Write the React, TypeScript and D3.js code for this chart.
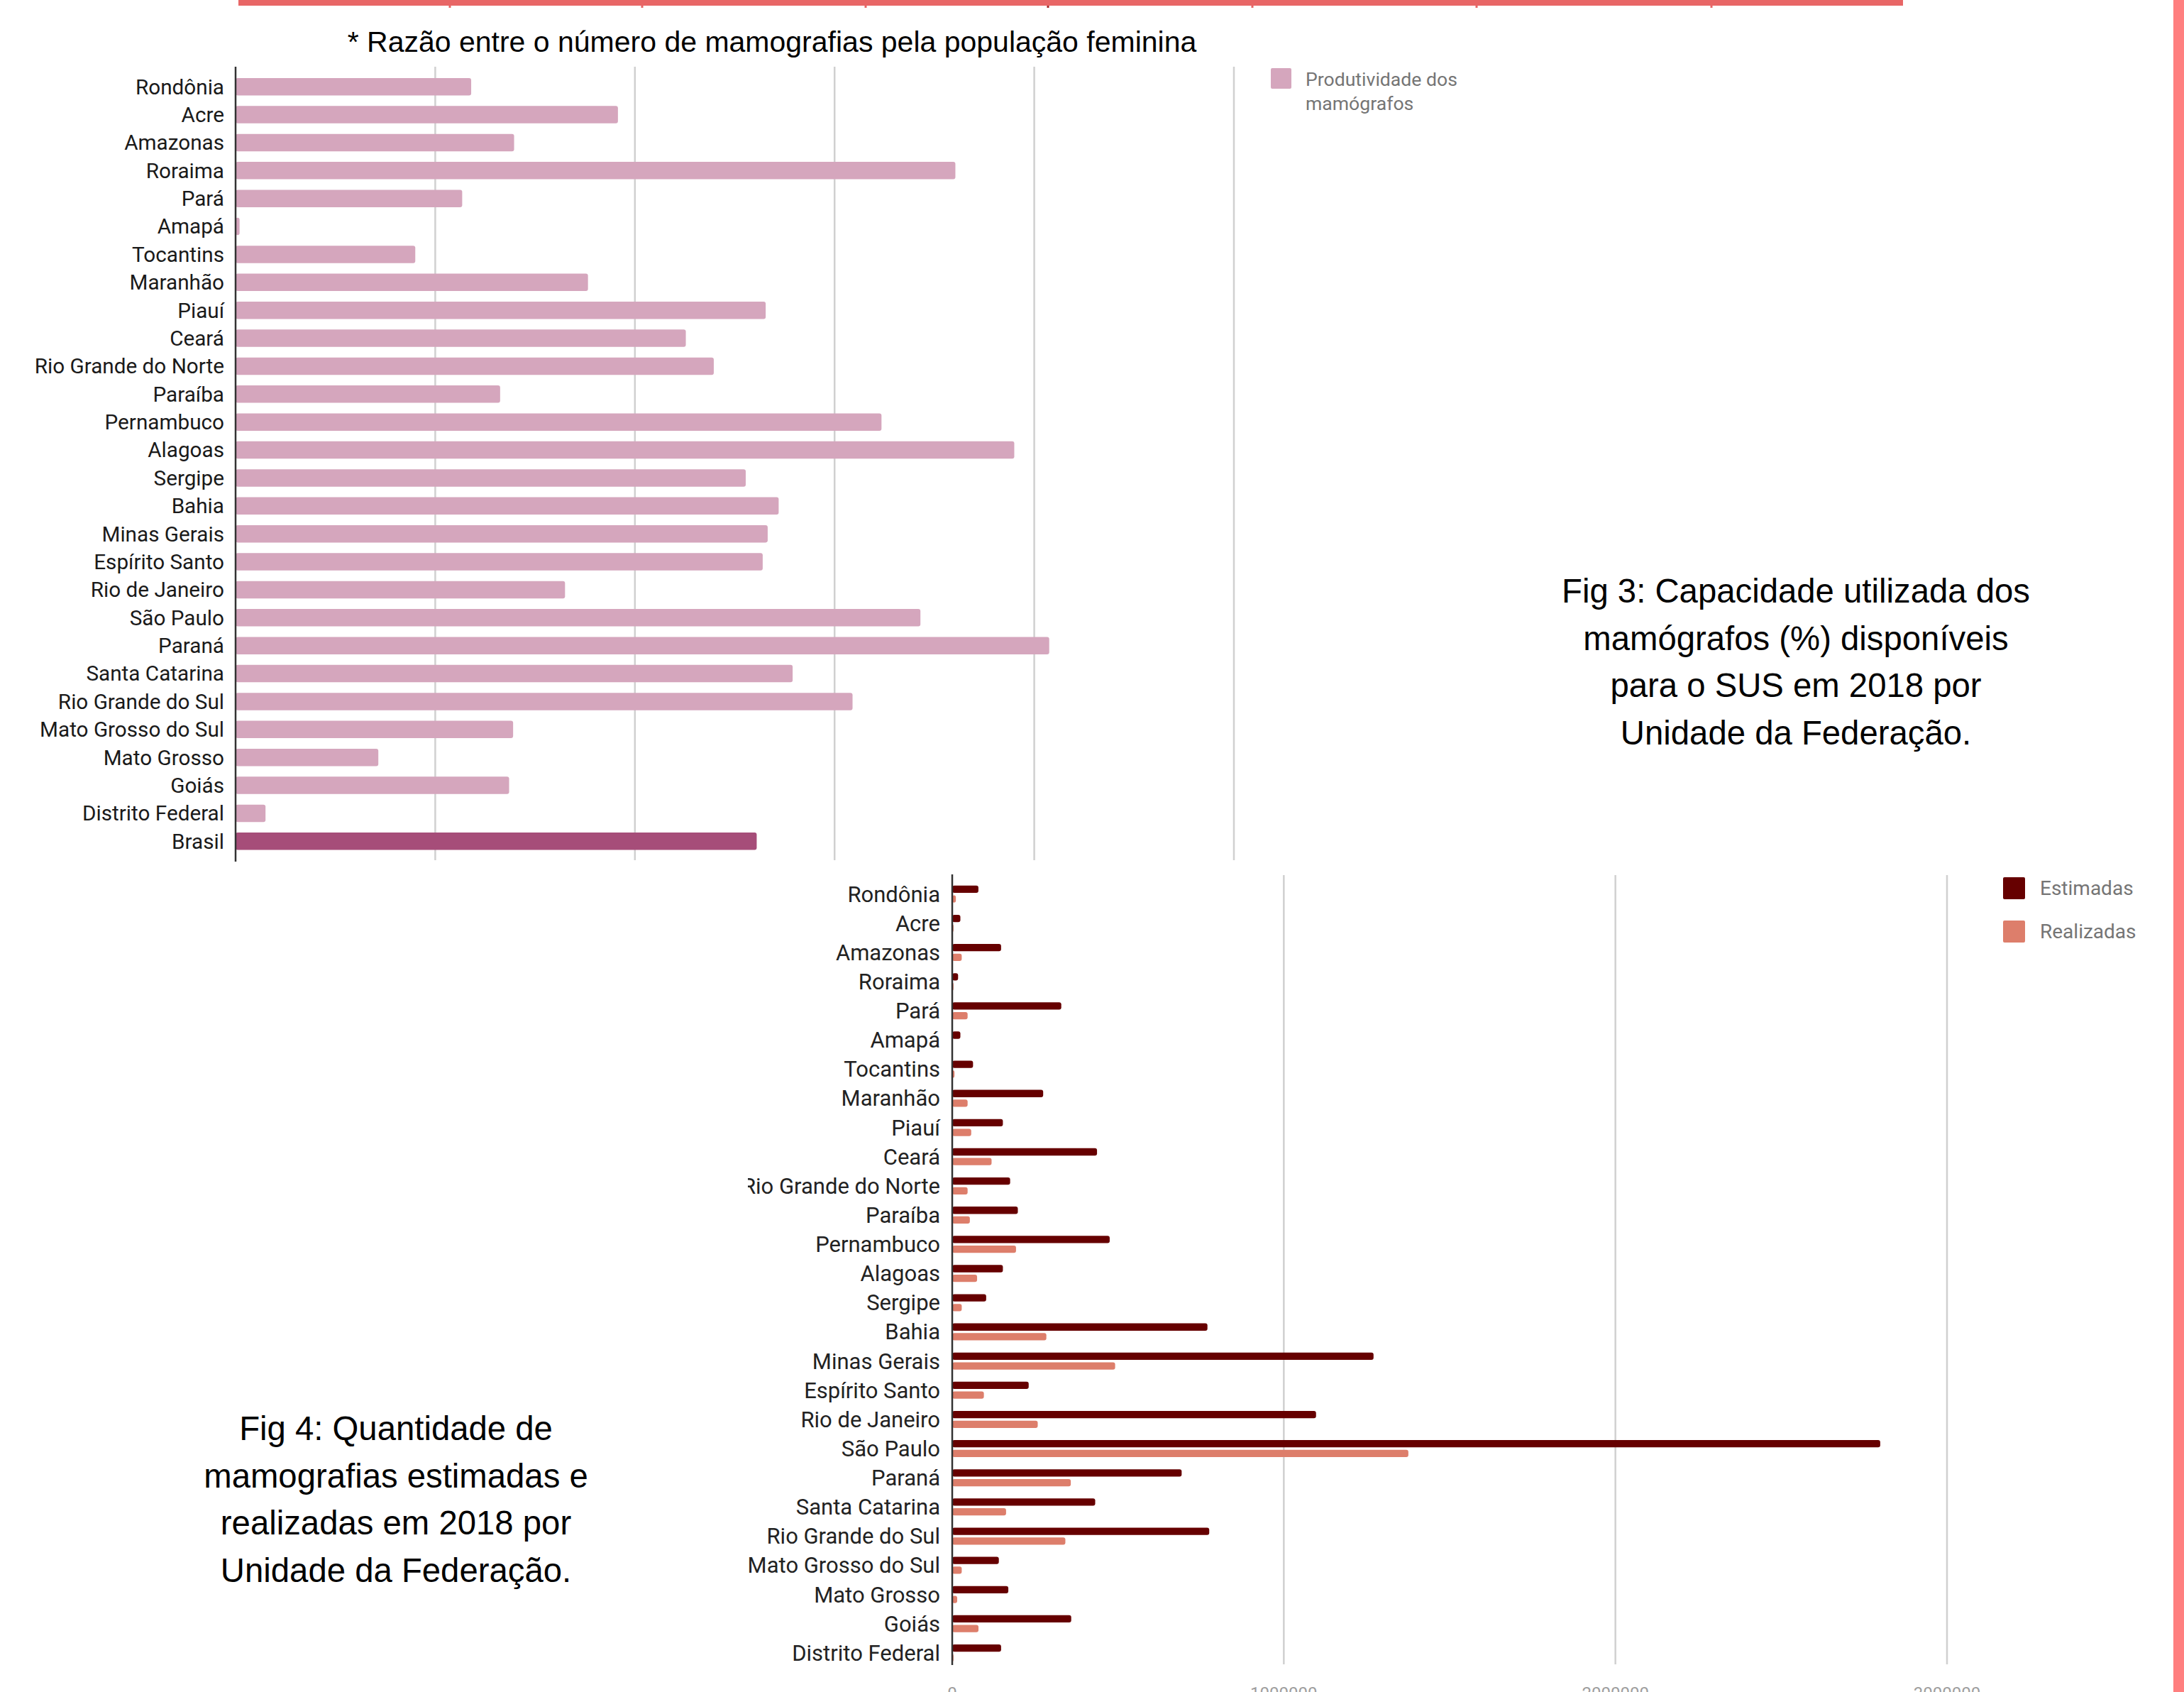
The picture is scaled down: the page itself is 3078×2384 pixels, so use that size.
import React from "react";
import * as d3 from "d3";

const W = 3078;
const H = 2384;

// ---------- Fig 3 data ----------
const estadosCap = [
  "Rondônia", "Acre", "Amazonas", "Roraima", "Pará", "Amapá", "Tocantins",
  "Maranhão", "Piauí", "Ceará", "Rio Grande do Norte", "Paraíba", "Pernambuco",
  "Alagoas", "Sergipe", "Bahia", "Minas Gerais", "Espírito Santo", "Rio de Janeiro",
  "São Paulo", "Paraná", "Santa Catarina", "Rio Grande do Sul", "Mato Grosso do Sul",
  "Mato Grosso", "Goiás", "Distrito Federal", "Brasil",
];
const capacidade = [
  23.6, 38.3, 27.9, 72.1, 22.7, 0.4, 18.0, 35.3, 53.1, 45.1, 47.9, 26.5, 64.7,
  78.0, 51.1, 54.4, 53.3, 52.8, 33.0, 68.6, 81.5, 55.8, 61.8, 27.8, 14.3, 27.4, 3.0, 52.2,
];
const capTicks = [0, 20, 40, 60, 80, 100];
const capLegend = ["Produtividade dos", "mamógrafos"];

// ---------- Fig 4 data ----------
const estadosQtd = estadosCap.slice(0, 27);
const estimadas = [
  79000, 24600, 147400, 17700, 328900, 24600, 62800, 274300, 152800, 436700,
  174700, 197900, 474900, 152800, 102400, 769700, 1270600, 230600, 1097200,
  2798600, 691900, 431200, 775100, 140600, 169200, 358900, 147400,
];
const realizadas = [
  11000, 4000, 28700, 4000, 46400, 1500, 6800, 46400, 57300, 118700, 46400,
  53200, 192400, 75000, 28700, 283900, 491300, 95500, 257900, 1375600, 357600,
  162400, 341200, 28700, 15000, 79200, 4000,
];
const series = ["Estimadas", "Realizadas"];
const seriesColors = ["#660000", "#DD7E6B"];
const qtdTicks = [0, 1000000, 2000000, 3000000];

const subtitle = "* Razão entre o número de mamografias pela população feminina";
const fig3 = ["Fig 3: Capacidade utilizada dos", "mamógrafos (%) disponíveis", "para o SUS em 2018 por", "Unidade da Federação."];
const fig4 = ["Fig 4: Quantidade de", "mamografias estimadas e", "realizadas em 2018 por", "Unidade da Federação."];

const notchX = [634, 905, 1220, 1477, 1765, 2081, 2412];

export default function App() {
  // Fig 3 scales
  const x1 = d3.scaleLinear().domain([0, 100]).range([332, 1739]);
  const y1 = d3.scaleBand<string>().domain(estadosCap).range([102.5, 1205]).paddingInner(0.378).paddingOuter(0.189);

  // Fig 4 scales
  const x2 = d3.scaleLinear().domain([0, 3000000]).range([1342, 2744]);
  const y2 = d3.scaleBand<string>().domain(estadosQtd).range([1239.2, 2349.5]).paddingInner(0).paddingOuter(0);
  const ys = d3.scaleBand<string>().domain(series).range([-12, 12]).paddingInner(0.25);

  const labelFont = "Roboto, 'Noto Sans', sans-serif";
  const capFont = "'Liberation Sans', Arial, sans-serif";

  return (
    <svg width={W} height={H} style={{ position: "absolute", left: 0, top: 0, display: "block", background: "#fff" }}>
      <defs>
        <clipPath id="clip4">
          <rect x={1054} y={1220} width={W - 1054} height={H - 1220} />
        </clipPath>
      </defs>
      <rect x={0} y={0} width={W} height={H} fill="#fff" />

      {/* decorative frame */}
      <rect x={336} y={0} width={2346} height={8} fill="#E86666" />
      {notchX.map((nx, i) => (
        <rect key={i} x={nx - 1.5} y={8} width={3} height={3} fill={i === 3 ? "#A52A2A" : "#E86666"} />
      ))}
      <rect x={3063} y={0} width={15} height={H} fill="#FF7F7F" />

      {/* subtitle */}
      <text x={1088} y={73} textAnchor="middle" fontFamily={capFont} fontSize={41} fill="#000">{subtitle}</text>

      {/* ---------- Fig 3 chart ---------- */}
      <g>
        {capTicks.slice(1).map((t) => (
          <line key={t} x1={x1(t)} x2={x1(t)} y1={94} y2={1212} stroke="#d0d0d0" strokeWidth={2.5} />
        ))}
        {estadosCap.map((s, i) => (
          <rect
            key={s}
            x={x1(0)}
            y={y1(s)!}
            width={Math.max(1.5, x1(capacidade[i]) - x1(0))}
            height={y1.bandwidth()}
            rx={3}
            fill={s === "Brasil" ? "#A64D79" : "#D5A6BD"}
          />
        ))}
        <line x1={x1(0)} x2={x1(0)} y1={94} y2={1214} stroke="#333" strokeWidth={2.5} />
        {estadosCap.map((s) => (
          <text
            key={s}
            x={316}
            y={y1(s)! + y1.bandwidth() / 2}
            dy="0.35em"
            textAnchor="end"
            fontFamily={labelFont}
            fontSize={29.7}
            fill="#1a1a1a"
          >
            {s}
          </text>
        ))}
        <rect x={1791} y={96} width={29} height={29} rx={2} fill="#D5A6BD" />
        {capLegend.map((t, i) => (
          <text key={t} x={1840} y={112 + i * 34} dy="0.35em" fontFamily={labelFont} fontSize={26.6} fill="#757575">{t}</text>
        ))}
      </g>

      {/* Fig 3 caption */}
      {fig3.map((t, i) => (
        <text key={t} x={2531} y={849 + i * 66.5} textAnchor="middle" fontFamily={capFont} fontSize={47.3} fill="#000">{t}</text>
      ))}

      {/* ---------- Fig 4 chart ---------- */}
      <g clipPath="url(#clip4)">
        {qtdTicks.slice(1).map((t) => (
          <line key={t} x1={x2(t)} x2={x2(t)} y1={1233} y2={2345} stroke="#d0d0d0" strokeWidth={2.5} />
        ))}
        {estadosQtd.map((s, i) => {
          const cy = y2(s)! + y2.bandwidth() / 2;
          const vals = [estimadas[i], realizadas[i]];
          return (
            <g key={s}>
              {series.map((ser, j) => (
                <rect
                  key={ser}
                  x={x2(0)}
                  y={cy + ys(ser)!}
                  width={Math.max(0, x2(vals[j]) - x2(0))}
                  height={ys.bandwidth()}
                  rx={3}
                  fill={seriesColors[j]}
                />
              ))}
            </g>
          );
        })}
        <line x1={x2(0)} x2={x2(0)} y1={1232} y2={2346} stroke="#333" strokeWidth={2.5} />
        {estadosQtd.map((s) => (
          <text
            key={s}
            x={1325}
            y={y2(s)! + y2.bandwidth() / 2}
            dy="0.35em"
            textAnchor="end"
            fontFamily={labelFont}
            fontSize={31}
            fill="#222"
          >
            {s}
          </text>
        ))}
        {qtdTicks.map((t) => (
          <text key={t} x={x2(t)} y={2394} textAnchor="middle" fontFamily={labelFont} fontSize={24} fill="#9e9e9e">{String(t)}</text>
        ))}
        {series.map((ser, j) => (
          <g key={ser}>
            <rect x={2823} y={1236 + j * 61} width={31} height={31} rx={2} fill={seriesColors[j]} />
            <text x={2875} y={1251.5 + j * 61} dy="0.35em" fontFamily={labelFont} fontSize={28} fill="#757575">{ser}</text>
          </g>
        ))}
      </g>

      {/* Fig 4 caption */}
      {fig4.map((t, i) => (
        <text key={t} x={558} y={2029 + i * 66.5} textAnchor="middle" fontFamily={capFont} fontSize={47.3} fill="#000">{t}</text>
      ))}
    </svg>
  );
}
